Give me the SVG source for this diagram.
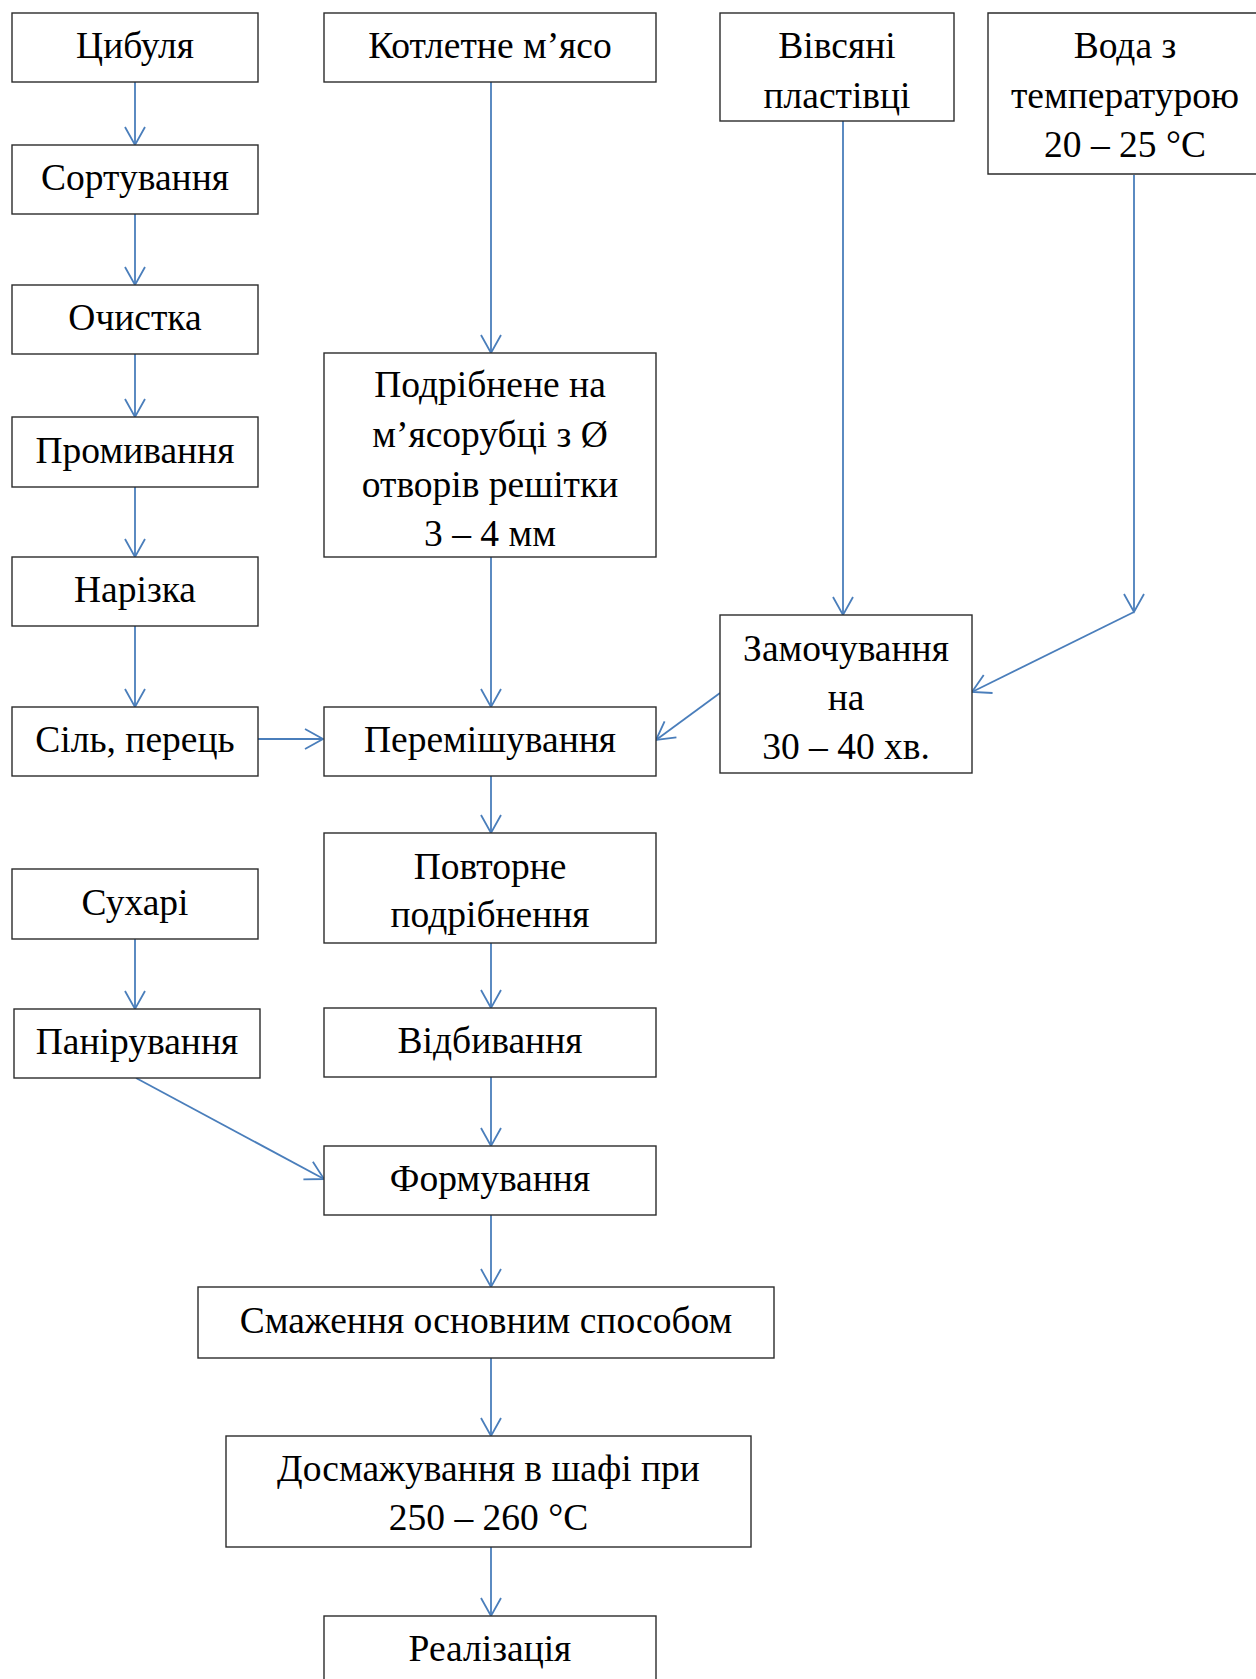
<svg xmlns="http://www.w3.org/2000/svg" width="1256" height="1679" viewBox="0 0 1256 1679">
<defs>
<style>
.box{fill:#fff;stroke:#2b2b2b;stroke-width:1.4}
.t{font-family:"Liberation Serif","Times New Roman",serif;font-size:37.5px;fill:#000;text-anchor:middle}
.c{fill:none;stroke:#4a7ebb;stroke-width:1.8}
</style>
<marker id="arr" viewBox="-20 -12 22 24" refX="0" refY="0" markerWidth="22" markerHeight="24" markerUnits="userSpaceOnUse" orient="auto">
<path d="M-18,-10 L0,0 L-18,10" fill="none" stroke="#4a7ebb" stroke-width="1.8"/>
</marker>
</defs>
<rect width="1256" height="1679" fill="#fff"/>
<g id="connectors">
<path class="c" marker-end="url(#arr)" d="M135,82 V145"/>
<path class="c" marker-end="url(#arr)" d="M135,214 V285"/>
<path class="c" marker-end="url(#arr)" d="M135,354 V417"/>
<path class="c" marker-end="url(#arr)" d="M135,487 V557"/>
<path class="c" marker-end="url(#arr)" d="M135,626 V707"/>
<path class="c" marker-end="url(#arr)" d="M135,939 V1009"/>
<path class="c" marker-end="url(#arr)" d="M491,82 V353"/>
<path class="c" marker-end="url(#arr)" d="M491,557 V707"/>
<path class="c" marker-end="url(#arr)" d="M491,776 V833"/>
<path class="c" marker-end="url(#arr)" d="M491,943 V1008"/>
<path class="c" marker-end="url(#arr)" d="M491,1077 V1146"/>
<path class="c" marker-end="url(#arr)" d="M491,1215 V1287"/>
<path class="c" marker-end="url(#arr)" d="M491,1358 V1436"/>
<path class="c" marker-end="url(#arr)" d="M491,1547 V1616"/>
<path class="c" marker-end="url(#arr)" d="M843,121 V615"/>
<path class="c" marker-end="url(#arr)" d="M1134,175 V612"/>
<path class="c" marker-end="url(#arr)" d="M1134,612 L972,692"/>
<path class="c" marker-end="url(#arr)" d="M720,693 L656,740"/>
<path class="c" marker-end="url(#arr)" d="M258,739 H323"/>
<path class="c" marker-end="url(#arr)" d="M136,1078 L324,1179"/>
</g>
<g id="n-tsybulia"><rect class="box" x="12" y="13" width="246" height="69"/><text class="t" x="135" y="58">Цибуля</text></g>
<g id="n-sortuvannia"><rect class="box" x="12" y="145" width="246" height="69"/><text class="t" x="135" y="190">Сортування</text></g>
<g id="n-ochystka"><rect class="box" x="12" y="285" width="246" height="69"/><text class="t" x="135" y="330">Очистка</text></g>
<g id="n-promyvannia"><rect class="box" x="12" y="417" width="246" height="70"/><text class="t" x="135" y="463">Промивання</text></g>
<g id="n-narizka"><rect class="box" x="12" y="557" width="246" height="69"/><text class="t" x="135" y="602">Нарізка</text></g>
<g id="n-sil"><rect class="box" x="12" y="707" width="246" height="69"/><text class="t" x="135" y="752">Сіль, перець</text></g>
<g id="n-sukhari"><rect class="box" x="12" y="869" width="246" height="70"/><text class="t" x="135" y="915">Сухарі</text></g>
<g id="n-paniruvannia"><rect class="box" x="14" y="1009" width="246" height="69"/><text class="t" x="137" y="1054">Панірування</text></g>
<g id="n-kotletne"><rect class="box" x="324" y="13" width="332" height="69"/><text class="t" x="490" y="58">Котлетне м’ясо</text></g>
<g id="n-podribnene"><rect class="box" x="324" y="353" width="332" height="204"/><text class="t" x="490" y="397">Подрібнене на</text><text class="t" x="490" y="447">м’ясорубці з Ø</text><text class="t" x="490" y="497">отворів решітки</text><text class="t" x="490" y="546">3 – 4 мм</text></g>
<g id="n-peremishuvannia"><rect class="box" x="324" y="707" width="332" height="69"/><text class="t" x="490" y="752">Перемішування</text></g>
<g id="n-povtorne"><rect class="box" x="324" y="833" width="332" height="110"/><text class="t" x="490" y="879">Повторне</text><text class="t" x="490" y="927">подрібнення</text></g>
<g id="n-vidbyvannia"><rect class="box" x="324" y="1008" width="332" height="69"/><text class="t" x="490" y="1053">Відбивання</text></g>
<g id="n-formuvannia"><rect class="box" x="324" y="1146" width="332" height="69"/><text class="t" x="490" y="1191">Формування</text></g>
<g id="n-smazhennia"><rect class="box" x="198" y="1287" width="576" height="71"/><text class="t" x="486" y="1333">Смаження основним способом</text></g>
<g id="n-dosmazhuvannia"><rect class="box" x="226" y="1436" width="525" height="111"/><text class="t" x="488.5" y="1481">Досмажування в шафі при</text><text class="t" x="488.5" y="1530">250 – 260 °С</text></g>
<g id="n-realizatsiia"><rect class="box" x="324" y="1616" width="332" height="80"/><text class="t" x="490" y="1661">Реалізація</text></g>
<g id="n-vivsiani"><rect class="box" x="720" y="13" width="234" height="108"/><text class="t" x="837" y="58">Вівсяні</text><text class="t" x="837" y="108">пластівці</text></g>
<g id="n-voda"><path class="box" d="M1260,13 H988 V174 H1260"/><text class="t" x="1125" y="58">Вода з</text><text class="t" x="1125" y="108">температурою</text><text class="t" x="1125" y="157">20 – 25 °С</text></g>
<g id="n-zamochuvannia"><rect class="box" x="720" y="615" width="252" height="158"/><text class="t" x="846" y="661">Замочування</text><text class="t" x="846" y="710">на</text><text class="t" x="846" y="759">30 – 40 хв.</text></g>
</svg>
